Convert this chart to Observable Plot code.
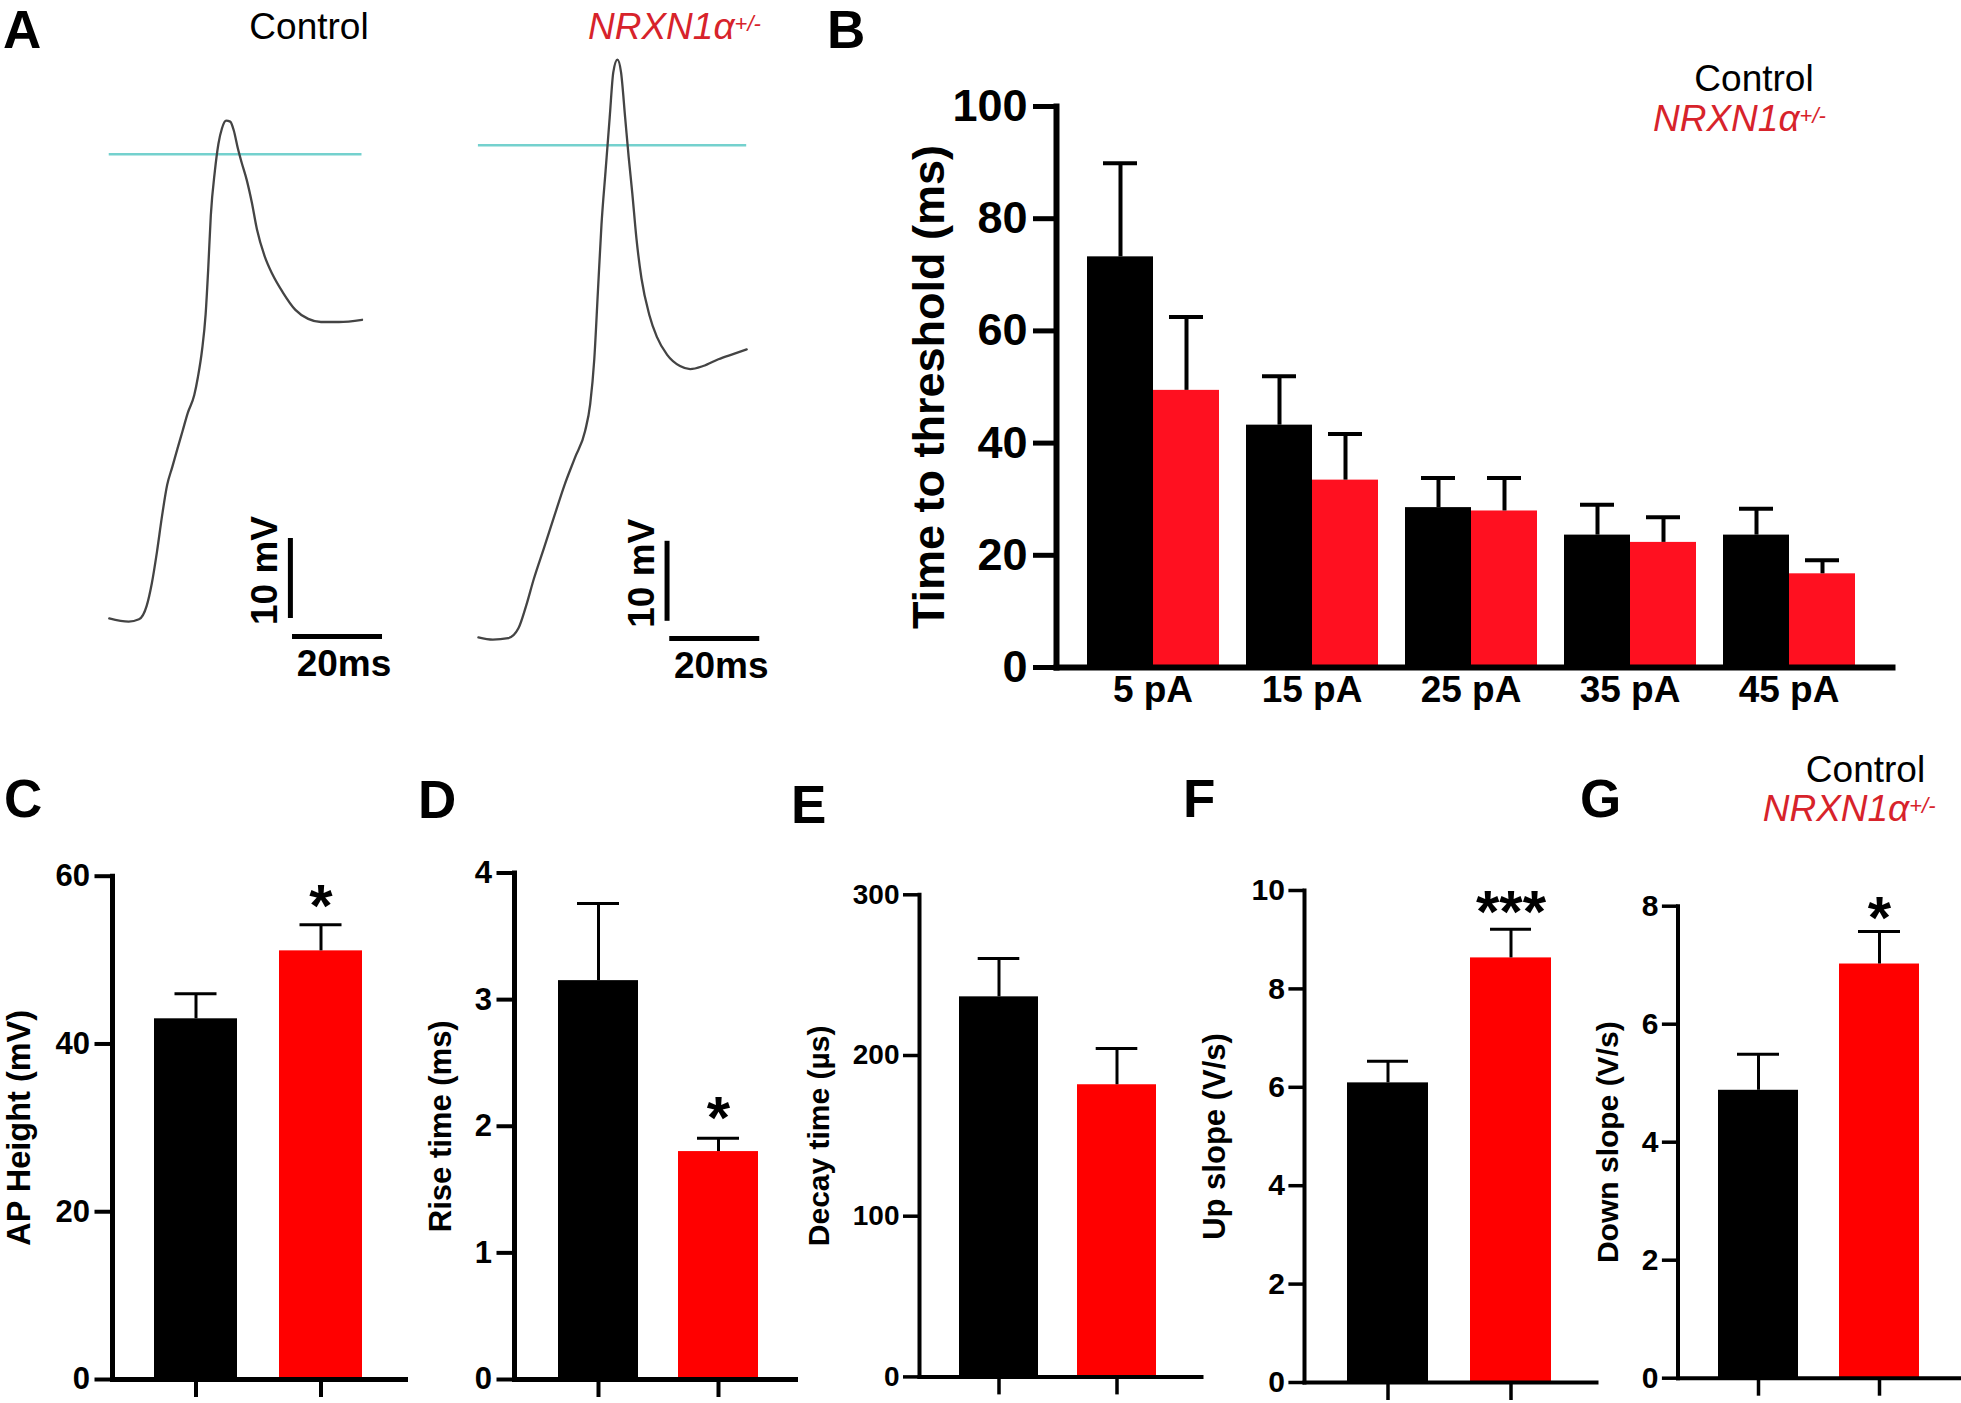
<!DOCTYPE html>
<html>
<head>
<meta charset="utf-8">
<script src="https://cdn.jsdelivr.net/npm/d3@7"></script>
<script src="https://cdn.jsdelivr.net/npm/@observablehq/plot@0.6"></script>
<style>
  html, body { margin: 0; padding: 0; background: #fff; }
  #fig { position: relative; width: 1961px; height: 1403px; overflow: hidden; background: #fff;
         font-family: "Liberation Sans", Arial, Helvetica, sans-serif; }
  .box { position: absolute; }
  .box svg { max-width: none !important; overflow: visible; display: block; }
  .lbl { position: absolute; white-space: nowrap; line-height: 1; }
</style>
</head>
<body>
<div id="fig"></div>
<script>
// ---------------- DATA ----------------
const genotypes = ["Control", "NRXN1α+/-"];

// Panel A: example action potential traces (time in ms, voltage in mV, relative)
const ctrlTraceT = [1.94, 6.27, 8.55, 10.26, 11.4, 12.54, 13.67, 14.82, 15.96, 17.09, 18.24, 19.38, 20.84, 21.64, 22.56, 23.36, 23.93, 24.51, 25.42, 26.2, 27.0, 27.91, 28.82, 29.62, 30.53, 31.33, 32.49, 33.62, 34.76, 36.47, 38.18, 40.47, 43.31, 46.16, 49.0, 53.0, 58.11];
const ctrlTraceV = [7.76, 7.36, 7.65, 9.33, 12.13, 16.05, 20.54, 24.46, 26.7, 28.95, 31.19, 33.43, 35.68, 37.91, 41.28, 45.76, 51.36, 58.1, 63.7, 67.06, 69.03, 69.98, 69.86, 68.75, 66.5, 64.82, 62.58, 59.78, 56.41, 53.05, 50.81, 48.56, 46.33, 45.2, 44.81, 44.81, 45.09];
const nrxnTraceT = [83.98, 87.18, 90.6, 92.87, 94.58, 96.29, 98.58, 100.84, 103.13, 105.42, 107.69, 108.82, 109.73, 110.53, 111.33, 112.24, 113.16, 113.96, 114.87, 115.67, 116.58, 117.38, 118.18, 119.09, 120.22, 121.93, 123.64, 125.93, 128.78, 131.04, 133.91, 137.31, 140.73, 143.6];
const nrxnTraceV = [5.4, 5.12, 5.29, 6.52, 9.33, 12.69, 16.61, 20.54, 24.46, 27.83, 31.19, 34.55, 40.16, 48.56, 56.98, 63.7, 70.43, 76.04, 77.6, 76.04, 70.43, 65.39, 60.9, 55.29, 50.25, 45.76, 42.96, 40.71, 39.31, 38.93, 39.31, 40.16, 40.83, 41.39];
const thresholdV  = [65.77, 66.9];
const thresholdT1 = [1.94, 83.98];
const thresholdT2 = [58.11, 143.6];
// scale bars: 10 mV vertical, 20 ms horizontal
const scaleVT  = [42.2, 125.9];
const scaleVV1 = [7.75, 7.4];
const scaleVV2 = [17.75, 17.4];
const scaleHV  = [5.5, 5.24];
const scaleHT1 = [42.67, 126.5];
const scaleHT2 = [62.67, 146.5];

// Panel B: time to threshold (ms)
const currents = ["5 pA", "15 pA", "25 pA", "35 pA", "45 pA"];
const ttControlMean = [73.2, 43.2, 28.5, 23.6, 23.6];
const ttControlSem  = [16.7, 8.7, 5.3, 5.4, 4.7];
const ttNrxnMean    = [49.4, 33.4, 27.9, 22.3, 16.7];
const ttNrxnSem     = [13.1, 8.2, 5.9, 4.5, 2.4];
const bTicks = [0, 20, 40, 60, 80, 100];

// Panels C-G
const apHeightMean = [43.0, 51.1];  const apHeightSem = [3.0, 3.1];  const apHeightSig = ["", "*"];
const riseMean     = [3.15, 1.80];  const riseSem     = [0.61, 0.105]; const riseSig   = ["", "*"];
const decayMean    = [236.5, 181.8]; const decaySem   = [23.8, 22.6]; const decaySig   = ["", ""];
const upMean       = [6.09, 8.63];  const upSem       = [0.44, 0.58]; const upSig      = ["", "***"];
const downMean     = [4.88, 7.02];  const downSem     = [0.61, 0.55]; const downSig    = ["", "*"];
const cTicks = [0, 20, 40, 60];
const dTicks = [0, 1, 2, 3, 4];
const eTicks = [0, 100, 200, 300];
const fTicks = [0, 2, 4, 6, 8, 10];
const gTicks = [0, 2, 4, 6, 8];

// ---------------- LAYOUT / HELPERS ----------------
const FONT = '"Liberation Sans", Arial, Helvetica, sans-serif';
const RED_LEG = "#d7232b";
const fig = document.getElementById("fig");
const intFmt = d => String(d);

function place(svg, left, top, width) {
  const d = document.createElement("div");
  d.className = "box";
  d.style.left = left + "px";
  d.style.top = top + "px";
  d.style.width = width + "px";
  d.appendChild(svg);
  fig.appendChild(d);
}

function addText(html, o) {
  const d = document.createElement("div");
  d.className = "lbl";
  d.innerHTML = html;
  d.style.fontSize = o.size + "px";
  d.style.fontWeight = o.weight || "normal";
  d.style.fontStyle = o.style || "normal";
  d.style.color = o.color || "#000";
  d.style.top = (o.baseline - 0.8465 * o.size) + "px";
  d.style.left = o.x + "px";
  if (o.center) d.style.transform = "translateX(-50%)";
  fig.appendChild(d);
}

const nrxnHtml = 'NRXN1α<span style="font-size:22px;position:relative;top:-8px">+/-</span>';

// ---------------- PANEL A ----------------
const ctrlTrace = ctrlTraceT.map((t, i) => ({t, v: ctrlTraceV[i]}));
const nrxnTrace = nrxnTraceT.map((t, i) => ({t, v: nrxnTraceV[i]}));
const thresholds = thresholdV.map((v, i) => ({v, t1: thresholdT1[i], t2: thresholdT2[i]}));
const vBars = scaleVT.map((t, i) => ({t, v1: scaleVV1[i], v2: scaleVV2[i], label: "10 mV"}));
const hBars = scaleHV.map((v, i) => ({v, t1: scaleHT1[i], t2: scaleHT2[i], label: "20ms"}));

const plotA = Plot.plot({
  width: 700, height: 660, margin: 0,
  x: {domain: [0, 155.556], axis: null},
  y: {domain: [-2.5, 80], axis: null},
  style: {fontFamily: FONT, fontWeight: "bold", fontSize: "37px", overflow: "visible", background: "transparent"},
  marks: [
    Plot.ruleY(thresholds, {y: "v", x1: "t1", x2: "t2", stroke: "#74d1ce", strokeWidth: 2.5}),
    Plot.line(ctrlTrace, {x: "t", y: "v", stroke: "#444", strokeWidth: 2.3, curve: "monotone-x"}),
    Plot.line(nrxnTrace, {x: "t", y: "v", stroke: "#444", strokeWidth: 2.3, curve: "monotone-x"}),
    Plot.ruleX(vBars, {x: "t", y1: "v1", y2: "v2", stroke: "#000", strokeWidth: 5}),
    Plot.ruleY(hBars, {y: "v", x1: "t1", x2: "t2", stroke: "#000", strokeWidth: 5}),
    Plot.text(vBars, {x: "t", y: d => (d.v1 + d.v2) / 2, text: "label", rotate: -90, textAnchor: "middle", lineAnchor: "bottom", dx: -13, dy: -8, fontSize: 37}),
    Plot.text(hBars, {x: d => (d.t1 + d.t2) / 2, y: "v", text: "label", textAnchor: "middle", lineAnchor: "bottom", dx: 6.5, dy: 39, fontSize: 37})
  ]
});
place(plotA, 100, 40, 700);

// ---------------- PANEL B ----------------
const bFx = {paddingInner: 0.1625, paddingOuter: 0.194, align: 0.45};
const bDims = {width: 1020, height: 640, marginLeft: 176, marginRight: 8, marginTop: 26, marginBottom: 53};
const bRows = [];
currents.forEach((c, i) => {
  bRows.push({current: c, geno: genotypes[0], mean: ttControlMean[i], sem: ttControlSem[i]});
  bRows.push({current: c, geno: genotypes[1], mean: ttNrxnMean[i], sem: ttNrxnSem[i]});
});

const plotBbars = Plot.plot({
  ...bDims,
  style: {fontFamily: FONT, overflow: "visible", background: "transparent"},
  fx: {domain: currents, ...bFx, axis: null, label: null},
  x: {domain: genotypes, padding: 0, axis: null, label: null},
  y: {domain: [0, 100], axis: null, label: null},
  color: {domain: genotypes, range: ["#000000", "#ff1020"]},
  marks: [
    Plot.barY(bRows, {fx: "current", x: "geno", y: "mean", fill: "geno"}),
    Plot.ruleX(bRows, {fx: "current", x: "geno", y1: "mean", y2: d => d.mean + d.sem, stroke: "#000", strokeWidth: 4}),
    Plot.tickY(bRows, {fx: "current", x: "geno", y: d => d.mean + d.sem, stroke: "#000", strokeWidth: 4, insetLeft: 16, insetRight: 16})
  ]
});
place(plotBbars, 880, 80, 1020);

const plotBaxes = Plot.plot({
  ...bDims,
  style: {fontFamily: FONT, fontWeight: "bold", fontSize: "45px", overflow: "visible", background: "transparent"},
  x: {type: "band", domain: currents, ...bFx, label: null},
  y: {domain: [0, 100], label: null},
  marks: [
    Plot.frame({anchor: "left", strokeWidth: 6, strokeLinecap: "square"}),
    Plot.frame({anchor: "bottom", strokeWidth: 6, strokeLinecap: "square"}),
    Plot.axisY({ticks: bTicks, tickFormat: intFmt, tickSize: 23, tickPadding: 6, strokeWidth: 5, fontSize: 45, label: null}),
    Plot.axisX({tickSize: 0, tickPadding: 8.5, fontSize: 37, label: null}),
    Plot.text(["Time to threshold (ms)"], {text: d => d, frameAnchor: "left", textAnchor: "middle", lineAnchor: "middle", rotate: -90, dx: -127.4, fontSize: 45})
  ]
});
place(plotBaxes, 880, 80, 1020);

// ---------------- PANELS C-G ----------------
function barPanel(cfg, means, sems, sigs) {
  const rows = genotypes.map((g, i) => ({geno: g, mean: means[i], sem: sems[i], sig: sigs[i]}));
  const plot = Plot.plot({
    width: cfg.width, height: cfg.height,
    marginLeft: cfg.mL, marginRight: cfg.mR, marginTop: cfg.mT, marginBottom: cfg.mB,
    style: {fontFamily: FONT, fontWeight: "bold", fontSize: cfg.tickFont + "px", overflow: "visible", background: "transparent"},
    x: {domain: genotypes, paddingInner: cfg.pi, paddingOuter: cfg.po, align: cfg.align, label: null},
    y: {domain: cfg.yDomain, label: null},
    color: {domain: genotypes, range: ["#000000", "#ff0000"]},
    marks: [
      Plot.barY(rows, {x: "geno", y: "mean", fill: "geno"}),
      Plot.ruleX(rows, {x: "geno", y1: "mean", y2: d => d.mean + d.sem, stroke: "#000", strokeWidth: 3}),
      Plot.tickY(rows, {x: "geno", y: d => d.mean + d.sem, stroke: "#000", strokeWidth: 3, insetLeft: cfg.capInset, insetRight: cfg.capInset}),
      Plot.text(rows.filter(d => d.sig), {x: "geno", y: d => d.mean + d.sem, text: "sig", textAnchor: "middle", lineAnchor: "bottom", dy: cfg.sigDy, fontSize: 60}),
      Plot.frame({anchor: "left", strokeWidth: cfg.axisW, strokeLinecap: "square"}),
      Plot.frame({anchor: "bottom", strokeWidth: cfg.axisW, strokeLinecap: "square"}),
      Plot.axisY({ticks: cfg.ticks, tickFormat: intFmt, tickSize: cfg.tickSize, tickPadding: cfg.tickPad, strokeWidth: cfg.tickW, fontSize: cfg.tickFont, label: null}),
      Plot.axisX({tickSize: 18, strokeWidth: cfg.tickW, tickFormat: () => "", label: null}),
      Plot.text([cfg.title], {text: d => d, frameAnchor: "left", textAnchor: "middle", lineAnchor: "middle", rotate: -90, dx: cfg.titleDx, fontSize: cfg.titleFont})
    ]
  });
  place(plot, cfg.left, cfg.top, cfg.width);
}

barPanel({left: 0, top: 840, width: 410, height: 563, mL: 112, mR: 5, mT: 35.7, mB: 24,
  yDomain: [0, 60], ticks: cTicks, pi: 0.335, po: 0.335, align: 0.49, capInset: 20.5, sigDy: 1,
  axisW: 5, tickW: 4, tickSize: 17.5, tickPad: 5, tickFont: 31,
  title: "AP Height (mV)", titleFont: 32.5, titleDx: -93}, apHeightMean, apHeightSem, apHeightSig);

barPanel({left: 410, top: 840, width: 390, height: 563, mL: 104, mR: 5, mT: 32.5, mB: 24,
  yDomain: [0, 4], ticks: dTicks, pi: 0.332, po: 0.332, align: 0.55, capInset: 19, sigDy: 0,
  axisW: 5, tickW: 4, tickSize: 17.5, tickPad: 5, tickFont: 31,
  title: "Rise time (ms)", titleFont: 31, titleDx: -73}, riseMean, riseSem, riseSig);

barPanel({left: 795, top: 840, width: 411, height: 563, mL: 124, mR: 5, mT: 54.3, mB: 26.6,
  yDomain: [0, 300], ticks: eTicks, pi: 0.334, po: 0.359, align: 0.47, capInset: 18.7, sigDy: 3,
  axisW: 4, tickW: 3.5, tickSize: 16, tickPad: 4, tickFont: 28,
  title: "Decay time (µs)", titleFont: 30, titleDx: -100.6}, decayMean, decaySem, decaySig);

barPanel({left: 1190, top: 840, width: 410, height: 563, mL: 114, mR: 4, mT: 50, mB: 21,
  yDomain: [0, 10], ticks: fTicks, pi: 0.34, po: 0.352, align: 0.49, capInset: 20, sigDy: 3,
  axisW: 4, tickW: 3.5, tickSize: 15.6, tickPad: 4, tickFont: 30,
  title: "Up slope (V/s)", titleFont: 31, titleDx: -89}, upMean, upSem, upSig);

barPanel({left: 1585, top: 840, width: 376, height: 563, mL: 92.5, mR: 0, mT: 65.7, mB: 25.3,
  yDomain: [0, 8], ticks: gTicks, pi: 0.341, po: 0.337, align: 0.49, capInset: 19, sigDy: 6,
  axisW: 4, tickW: 3.5, tickSize: 15.6, tickPad: 4, tickFont: 30,
  title: "Down slope (V/s)", titleFont: 30, titleDx: -69.6}, downMean, downSem, downSig);

// ---------------- TEXT: panel letters, headers, legends ----------------
const letters = [["A", 3, 48], ["B", 827, 48], ["C", 4, 817], ["D", 418, 818], ["E", 791, 823], ["F", 1183, 817], ["G", 1580, 817]];
letters.forEach(([t, x, b]) => addText(t, {x, baseline: b, size: 53, weight: "bold"}));

addText("Control", {x: 309, baseline: 39.5, size: 37, center: true});
addText(nrxnHtml, {x: 588, baseline: 39.3, size: 37, style: "italic", color: RED_LEG});

addText("Control", {x: 1754, baseline: 91.7, size: 37, center: true});
addText(nrxnHtml, {x: 1653, baseline: 131.7, size: 37, style: "italic", color: RED_LEG});

addText("Control", {x: 1865.5, baseline: 782.7, size: 37, center: true});
addText(nrxnHtml, {x: 1762.7, baseline: 821, size: 37, style: "italic", color: RED_LEG});
</script>
</body>
</html>
